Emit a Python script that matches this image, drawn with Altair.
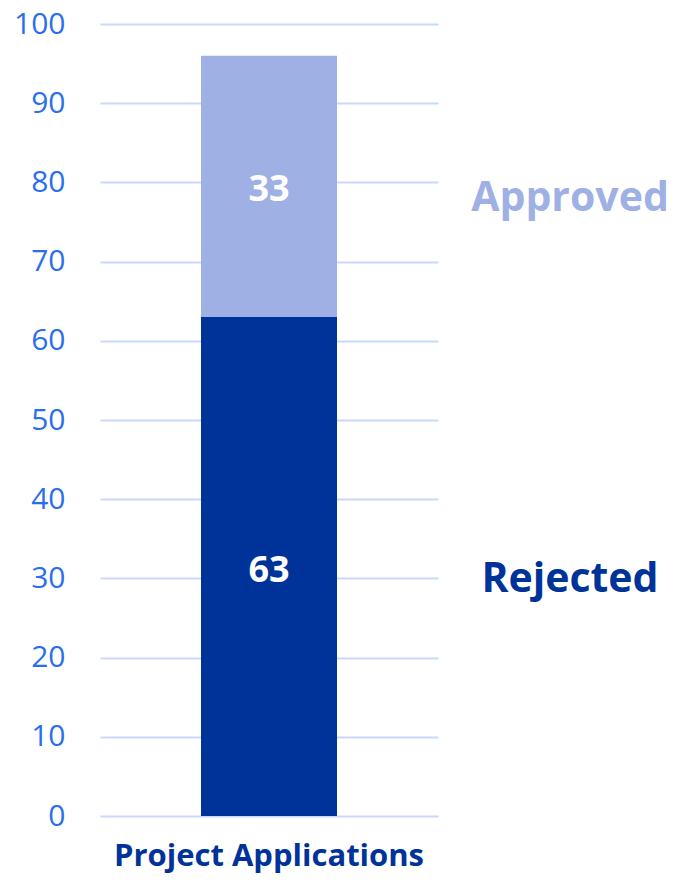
import altair as alt
import pandas as pd

categories = ["Project Applications", "Project Applications"]
statuses = ["Rejected", "Approved"]
values = [63, 33]
stack_order = [1, 2]
y_ticks = [0, 10, 20, 30, 40, 50, 60, 70, 80, 90, 100]

DARK = "#003399"
LIGHT = "#9fb0e4"
TICK = "#2a6ef0"
GRID = "#c9d9fa"
FONT = "Open Sans"

df = pd.DataFrame({"category": categories, "status": statuses,
                   "value": values, "order": stack_order})

color = alt.Color("status:N", scale=alt.Scale(domain=["Rejected", "Approved"], range=[DARK, LIGHT]), legend=None)

base = alt.Chart(df).transform_stack(
    stack="value", groupby=["category"], sort=[alt.SortField("order")], as_=["v0", "v1"]
).transform_calculate(mid="(datum.v0 + datum.v1) / 2")

x = alt.X("category:N", title=None,
          axis=alt.Axis(labelFont=FONT, labelFontSize=31, labelFontWeight="bold", labelColor=DARK,
                        labelPadding=25, labelLimit=0, ticks=False, domain=False, grid=False, labelAngle=0))

bars = base.mark_bar(size=136).encode(
    x=x,
    y=alt.Y("v0:Q", title=None, scale=alt.Scale(domain=[0, 100], nice=False),
            axis=alt.Axis(values=y_ticks, labelFont=FONT, labelFontSize=30, labelColor=TICK,
                          labelPadding=35, ticks=False, domain=False, grid=True,
                          gridColor=GRID, gridWidth=2)),
    y2="v1:Q",
    color=color,
)

inner = base.mark_text(font=FONT, fontSize=36, fontWeight="bold", color="white", baseline="middle", dy=4).encode(
    x=x, y=alt.Y("mid:Q"), text="value:Q")

side = base.mark_text(font=FONT, fontSize=41, fontWeight="bold", align="center", baseline="middle", dy=13).encode(
    x=alt.value(470), y=alt.Y("mid:Q"), text="status:N", color=color)

chart = alt.layer(bars, inner, side).properties(
    width=338, height=792,
    autosize=alt.AutoSizeParams(type="none"),
    padding={"left": 92, "top": 16, "right": 231, "bottom": 58},
).configure_view(stroke=None)

chart.save("out.html", embed_options={"renderer": "svg", "actions": False})
